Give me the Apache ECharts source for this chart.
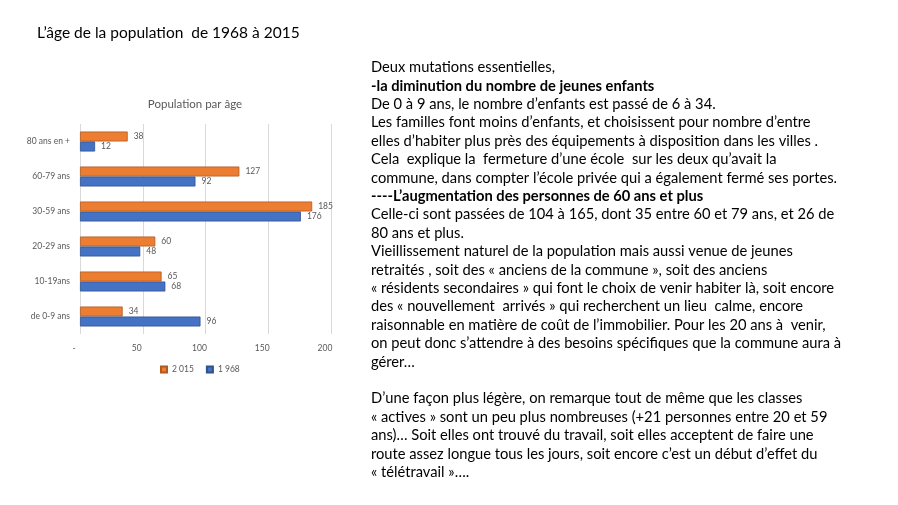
<!DOCTYPE html>
<html><head><meta charset="utf-8">
<script src="https://cdn.jsdelivr.net/npm/echarts@6/dist/echarts.min.js"></script>
<style>html,body{margin:0;padding:0;background:#fff}#c{width:898px;height:505px}</style>
</head><body><div id="c"></div>
<script>
const categories = ['de 0-9 ans', '10-19ans', '20-29 ans', '30-59 ans', '60-79 ans', '80 ans en +'];
const values2015 = [34, 65, 60, 185, 127, 38];
const values1968 = [96, 68, 48, 176, 92, 12];
const xTicks = [0, 50, 100, 150, 200];
const legendNames = ['2 015', '1 968'];

const textLines = [
  ['Deux mutations essentielles,', false],
  ['-la diminution du nombre de jeunes enfants', true],
  ['De 0 à 9 ans, le nombre d\u2019enfants est passé de 6 à 34.', false],
  ['Les familles font moins d\u2019enfants, et choisissent pour nombre d\u2019entre', false],
  ['elles d\u2019habiter plus près des équipements à disposition dans les villes .', false],
  ['Cela  explique la  fermeture d\u2019une école  sur les deux qu\u2019avait la', false],
  ['commune, dans compter l\u2019école privée qui a également fermé ses portes.', false],
  ['----L\u2019augmentation des personnes de 60 ans et plus', true],
  ['Celle-ci sont passées de 104 à 165, dont 35 entre 60 et 79 ans, et 26 de', false],
  ['80 ans et plus.', false],
  ['Vieillissement naturel de la population mais aussi venue de jeunes', false],
  ['retraités , soit des « anciens de la commune », soit des anciens', false],
  ['« résidents secondaires » qui font le choix de venir habiter là, soit encore', false],
  ['des « nouvellement  arrivés » qui recherchent un lieu  calme, encore', false],
  ['raisonnable en matière de coût de l\u2019immobilier. Pour les 20 ans à  venir,', false],
  ['on peut donc s\u2019attendre à des besoins spécifiques que la commune aura à', false],
  ['gérer\u2026', false],
  ['', false],
  ['D\u2019une façon plus légère, on remarque tout de même que les classes', false],
  ['« actives » sont un peu plus nombreuses (+21 personnes entre 20 et 59', false],
  ['ans)\u2026 Soit elles ont trouvé du travail, soit elles acceptent de faire une', false],
  ['route assez longue tous les jours, soit encore c\u2019est un début d\u2019effet du', false],
  ['« télétravail »\u2026.', false]
];

const FONT = 'Lato, "Open Sans", sans-serif';
const graphics = [{
  type: 'text', left: 37, top: 25,
  style: { text: 'L\u2019âge de la population  de 1968 à 2015', font: '15.5px ' + FONT, fill: '#000' }
}];
textLines.forEach((l, i) => {
  if (!l[0]) return;
  graphics.push({
    type: 'text', left: 371, top: 60 + i * 18.4,
    style: { text: l[0], font: (l[1] ? 'bold ' : '') + '14.7px ' + FONT, fill: '#000' }
  });
});

const chart = echarts.init(document.getElementById('c'));
chart.setOption({
  animation: false,
  title: {
    text: 'Population par âge', left: 190, top: 93, textAlign: 'center',
    textStyle: { fontSize: 11.5, fontWeight: 'normal', color: '#595959', fontFamily: FONT }
  },
  legend: {
    data: legendNames, left: 155, top: 360, itemWidth: 6, itemHeight: 6, itemGap: 12,
    icon: 'rect', textStyle: { fontSize: 8.5, color: '#595959', fontFamily: FONT }
  },
  grid: { left: 80, right: 567, top: 124, bottom: 171, containLabel: false },
  xAxis: {
    type: 'value', min: 0, max: 200, interval: 50,
    axisLine: { show: false }, axisTick: { show: false },
    splitLine: { lineStyle: { color: '#d9d9d9' } },
    axisLabel: {
      fontSize: 8.5, color: '#595959', margin: 10, padding: [0, 12, 0, 0], fontFamily: FONT,
      formatter: v => v === 0 ? '-' : String(v)
    }
  },
  yAxis: {
    type: 'category', data: categories,
    axisLine: { show: false }, axisTick: { show: false },
    axisLabel: { fontSize: 8.5, color: '#595959', margin: 10, fontFamily: FONT }
  },
  series: [
    {
      name: '2 015', type: 'bar', data: values2015, barWidth: 10, barGap: '0%',
      itemStyle: { color: '#ED7D31', borderColor: '#ae5a21', borderWidth: 0.8 },
      label: { show: true, position: 'right', fontSize: 8.5, color: '#595959', distance: 6, fontFamily: FONT }
    },
    {
      name: '1 968', type: 'bar', data: values1968, barWidth: 10, barGap: '0%',
      itemStyle: { color: '#4472C4', borderColor: '#2f528f', borderWidth: 0.8 },
      label: { show: true, position: 'right', fontSize: 8.5, color: '#595959', distance: 6, fontFamily: FONT }
    }
  ],
  graphic: graphics
});
</script></body></html>
